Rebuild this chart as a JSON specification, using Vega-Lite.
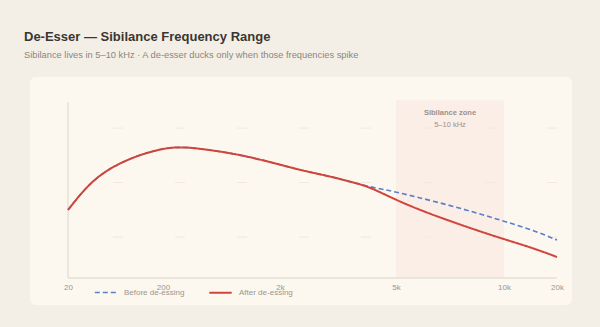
{
  "$schema": "https://vega.github.io/schema/vega-lite/v6.json",
  "width": 542,
  "height": 228,
  "autosize": {"type": "none"},
  "padding": {"left": 30, "top": 77, "right": 28, "bottom": 22},
  "background": "#f4efe6",
  "config": {
    "view": {"fill": "#fcf8f0", "stroke": null, "cornerRadius": 6},
    "font": "Liberation Sans"
  },
  "title": {
    "text": "De-Esser — Sibilance Frequency Range",
    "subtitle": "Sibilance lives in 5–10 kHz · A de-esser ducks only when those frequencies spike",
    "anchor": "start",
    "frame": "group",
    "dx": -6,
    "offset": 17,
    "fontSize": 13,
    "fontWeight": "bold",
    "color": "#3a3632",
    "subtitleFontSize": 9.3,
    "subtitleColor": "#8a8580",
    "subtitlePadding": 7
  },
  "datasets": {
    "curve": [
      {"freq": 20, "level": -25.0, "series": "Before de-essing"},
      {"freq": 55, "level": -20.75, "series": "Before de-essing"},
      {"freq": 86, "level": -18.2, "series": "Before de-essing"},
      {"freq": 119, "level": -16.4, "series": "Before de-essing"},
      {"freq": 151, "level": -15.1, "series": "Before de-essing"},
      {"freq": 181, "level": -14.2, "series": "Before de-essing"},
      {"freq": 280, "level": -13.6, "series": "Before de-essing"},
      {"freq": 520, "level": -13.46, "series": "Before de-essing"},
      {"freq": 815, "level": -13.83, "series": "Before de-essing"},
      {"freq": 1338, "level": -14.75, "series": "Before de-essing"},
      {"freq": 1846, "level": -16.2, "series": "Before de-essing"},
      {"freq": 2517, "level": -17.7, "series": "Before de-essing"},
      {"freq": 3371, "level": -18.97, "series": "Before de-essing"},
      {"freq": 3900, "level": -19.98, "series": "Before de-essing"},
      {"freq": 4328, "level": -20.8, "series": "Before de-essing"},
      {"freq": 4750, "level": -21.35, "series": "Before de-essing"},
      {"freq": 5185, "level": -21.9, "series": "Before de-essing"},
      {"freq": 6713, "level": -23.37, "series": "Before de-essing"},
      {"freq": 8287, "level": -25.02, "series": "Before de-essing"},
      {"freq": 9815, "level": -26.86, "series": "Before de-essing"},
      {"freq": 15472, "level": -28.7, "series": "Before de-essing"},
      {"freq": 20000, "level": -30.53, "series": "Before de-essing"},
      {"freq": 20, "level": -25.0, "series": "After de-essing"},
      {"freq": 55, "level": -20.75, "series": "After de-essing"},
      {"freq": 86, "level": -18.2, "series": "After de-essing"},
      {"freq": 119, "level": -16.4, "series": "After de-essing"},
      {"freq": 151, "level": -15.1, "series": "After de-essing"},
      {"freq": 181, "level": -14.2, "series": "After de-essing"},
      {"freq": 280, "level": -13.6, "series": "After de-essing"},
      {"freq": 520, "level": -13.46, "series": "After de-essing"},
      {"freq": 815, "level": -13.83, "series": "After de-essing"},
      {"freq": 1338, "level": -14.75, "series": "After de-essing"},
      {"freq": 1846, "level": -16.2, "series": "After de-essing"},
      {"freq": 2517, "level": -17.7, "series": "After de-essing"},
      {"freq": 3371, "level": -18.97, "series": "After de-essing"},
      {"freq": 3900, "level": -19.98, "series": "After de-essing"},
      {"freq": 4328, "level": -20.8, "series": "After de-essing"},
      {"freq": 5185, "level": -23.56, "series": "After de-essing"},
      {"freq": 6713, "level": -25.94, "series": "After de-essing"},
      {"freq": 8287, "level": -28.14, "series": "After de-essing"},
      {"freq": 9815, "level": -30.16, "series": "After de-essing"},
      {"freq": 15472, "level": -31.99, "series": "After de-essing"},
      {"freq": 20000, "level": -33.65, "series": "After de-essing"}
    ],
    "zone": [{"start": 5000, "end": 10000, "top": -4.9, "bottom": -37.5, "mid": 7500, "label": "Sibilance zone", "range": "5–10 kHz", "labelLevel": -7.3, "rangeLevel": -9.5}],
    "grid": [{"level": -30, "from": 20, "to": 20000}, {"level": -20, "from": 20, "to": 20000}, {"level": -10, "from": 20, "to": 20000}],
    "axes": [
      {"x": 20, "x2": 20, "y": -5.2, "y2": -37.5},
      {"x": 20, "x2": 20000, "y": -37.5, "y2": -37.5}
    ]
  },
  "encoding": {},
  "layer": [
    {
      "data": {"name": "zone"},
      "mark": {"type": "rect", "fill": "#f9e4de", "opacity": 0.5},
      "encoding": {
        "x": {"field": "start", "type": "quantitative", "scale": {"domain": [0, 20, 200, 2000, 5000, 10000, 20000, 25000], "range": [0, 38, 133, 250, 366, 474, 527, 542], "nice": false, "zero": false}, "axis": {"orient": "bottom", "offset": -27, "values": [20, 200, 2000, 5000, 10000, 20000], "labelExpr": "datum.value >= 1000 ? (datum.value / 1000) + 'k' : datum.value", "domain": false, "ticks": false, "grid": false, "title": null, "labelFontSize": 8, "labelColor": "#9a958f", "labelPadding": 5, "labelFlush": false}},
        "x2": {"field": "end"},
        "y": {"field": "top", "type": "quantitative", "scale": {"domain": [-42.45, -0.62], "nice": false, "zero": false}, "axis": null},
        "y2": {"field": "bottom"}
      }
    },
    {
      "data": {"name": "grid"},
      "mark": {"type": "rule", "stroke": "#efe9df", "strokeWidth": 1, "strokeDash": [10, 52], "strokeDashOffset": -45},
      "encoding": {
        "x": {"field": "from", "type": "quantitative"},
        "x2": {"field": "to"},
        "y": {"field": "level", "type": "quantitative"}
      }
    },
    {
      "data": {"name": "axes"},
      "mark": {"type": "rule", "stroke": "#dcd6cc", "strokeWidth": 1},
      "encoding": {
        "x": {"field": "x", "type": "quantitative"},
        "x2": {"field": "x2"},
        "y": {"field": "y", "type": "quantitative"},
        "y2": {"field": "y2"}
      }
    },
    {
      "data": {"name": "zone"},
      "mark": {"type": "text", "fontSize": 7.5, "fontWeight": "bold", "color": "#9a918b", "baseline": "middle"},
      "encoding": {
        "x": {"field": "mid", "type": "quantitative"},
        "y": {"field": "labelLevel", "type": "quantitative"},
        "text": {"field": "label"}
      }
    },
    {
      "data": {"name": "zone"},
      "mark": {"type": "text", "fontSize": 7.5, "color": "#9a918b", "baseline": "middle"},
      "encoding": {
        "x": {"field": "mid", "type": "quantitative"},
        "y": {"field": "rangeLevel", "type": "quantitative"},
        "text": {"field": "range"}
      }
    },
    {
      "data": {"name": "curve"},
      "mark": {"type": "line", "interpolate": "basis"},
      "encoding": {
        "x": {"field": "freq", "type": "quantitative"},
        "y": {"field": "level", "type": "quantitative"},
        "color": {"field": "series", "type": "nominal", "sort": ["Before de-essing", "After de-essing"], "scale": {"domain": ["Before de-essing", "After de-essing"], "range": ["#5b7ec6", "#d0453b"]}, "legend": {"orient": "none", "legendX": 64, "legendY": 203, "direction": "horizontal", "title": null, "symbolType": "stroke", "symbolSize": 500, "symbolStrokeWidth": 2, "labelFontSize": 8, "labelColor": "#9a958f", "columnPadding": 20, "labelOffset": 6}},
        "strokeDash": {"field": "series", "type": "nominal", "sort": ["Before de-essing", "After de-essing"], "scale": {"domain": ["Before de-essing", "After de-essing"], "range": [[5, 3], [1, 0]]}, "legend": null},
        "strokeWidth": {"field": "series", "type": "nominal", "scale": {"domain": ["Before de-essing", "After de-essing"], "range": [1.6, 2]}, "legend": null},
        "order": {"field": "freq", "type": "quantitative"}
      }
    }
  ]
}
